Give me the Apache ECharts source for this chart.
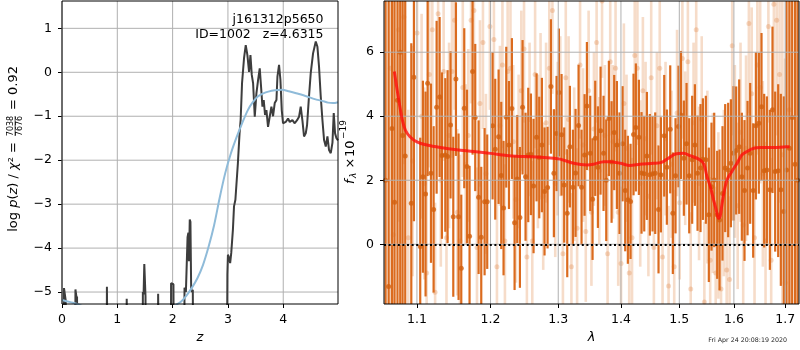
<!DOCTYPE html>
<html>
<head>
<meta charset="utf-8">
<script src="https://cdn.jsdelivr.net/npm/echarts@6/dist/echarts.min.js"></script>
<style>
  html, body { margin: 0; padding: 0; background: #fff; }
  #chart { width: 800px; height: 350px; }
</style>
</head>
<body>
<div id="chart"></div>
<script>
// ---- p(z): redshift grid and log-probability curve ----
const zPz = [0.000, 0.030, 0.036, 0.050, 0.062, 0.068, 0.075, 0.235, 0.243, 0.258, 0.265, 0.272, 0.280,
  0.805, 0.812, 0.830, 0.840, 1.160, 1.170, 1.195, 1.205, 1.455, 1.462, 1.475, 1.488, 1.500, 1.510, 1.520,
  1.730, 1.738, 1.765, 1.772, 1.965, 1.972, 1.995, 2.015, 2.028, 2.205, 2.215, 2.240, 2.270, 2.285, 2.295,
  2.310, 2.322, 2.335, 2.350, 2.365, 2.380, 2.975, 2.990, 3.000, 3.015, 3.040, 3.060, 3.090, 3.110, 3.135,
  3.160, 3.180, 3.210, 3.230, 3.255, 3.291, 3.322, 3.352, 3.382, 3.407, 3.431, 3.455, 3.485, 3.515, 3.545,
  3.575, 3.599, 3.624, 3.647, 3.671, 3.696, 3.725, 3.756, 3.786, 3.816, 3.846, 3.877, 3.895, 3.924, 3.949,
  3.973, 3.996, 4.045, 4.087, 4.118, 4.166, 4.208, 4.250, 4.286, 4.316, 4.347, 4.376, 4.407, 4.431, 4.461,
  4.497, 4.539, 4.588, 4.618, 4.647, 4.678, 4.708, 4.738, 4.769, 4.799, 4.828, 4.859, 4.890, 4.913, 4.937,
  4.962, 4.990];
const logPz = [-9, -9, -4.91, -4.93, -4.92, -5.2, -9, -9, -4.94, -4.96, -5.15, -5.1, -9,
  -9, -4.88, -4.90, -9, -9, -5.15, -5.12, -9, -9, -5.0, -5.05, -4.36, -4.40, -5.1, -9,
  -9, -5.04, -5.07, -9, -9, -4.80, -4.78, -4.82, -9, -9, -4.9, -5.0, -3.75, -3.65, -4.3,
  -3.35, -3.4, -4.9, -5.0, -4.95, -9, -9, -4.6, -4.15, -4.2, -4.34, -4.11, -3.58, -3.05, -2.9,
  -2.86, -2.07, -1.39, -1.08, -0.25, 0.32, 0.62, 0.39, 0.01, 0.39, -0.06, -0.25, -1.01, -0.48, -0.18,
  0.09, -0.33, -0.78, -0.63, -0.97, -0.86, -1.24, -1.20, -0.78, -1.00, -0.70, -0.63, -0.10, 0.17, -0.17,
  -0.86, -1.16, -1.13, -1.05, -1.13, -1.09, -1.16, -1.09, -1.01, -0.78, -1.10, -1.46, -1.39, -1.20, -0.63,
  -0.02, 0.43, 0.70, 0.58, 0.13, -0.55, -1.08, -1.54, -1.69, -1.46, -1.77, -1.84, -1.60, -0.93, -1.39,
  -1.50, -1.55];

// ---- prior curve ----
const zPrior = [0, 0.15, 0.3, 0.6, 1.0, 1.5, 1.9, 2.05, 2.15, 2.25, 2.35, 2.45, 2.55, 2.65, 2.75, 2.85,
  2.95, 3.05, 3.15, 3.25, 3.36, 3.45, 3.54, 3.64, 3.73, 3.85, 3.97, 4.1, 4.27, 4.43, 4.57, 4.7, 4.81, 4.9, 4.99];
const logPrior = [-5.18, -5.23, -5.28, -5.45, -5.6, -5.6, -5.42, -5.3, -5.22, -5.08, -4.9, -4.68, -4.38,
  -3.97, -3.48, -2.86, -2.3, -1.86, -1.5, -1.18, -0.86, -0.68, -0.55, -0.48, -0.44, -0.41, -0.40, -0.43,
  -0.49, -0.55, -0.61, -0.65, -0.69, -0.70, -0.68];

// ---- spectrum, first set (strong) ----
const waveA = [1.0600, 1.0638, 1.0680, 1.0713, 1.0750, 1.0785, 1.0815, 1.0849, 1.0927, 1.0961, 1.1043, 1.1078,
  1.1113, 1.1140, 1.1184, 1.1219, 1.1259, 1.1299, 1.1330, 1.1375, 1.1406, 1.1446, 1.1483, 1.1519, 1.1555,
  1.1592, 1.1633, 1.1670, 1.1706, 1.1748, 1.1785, 1.1832, 1.1869, 1.1916, 1.1953, 1.2029, 1.2067, 1.2115,
  1.2153, 1.2186, 1.2225, 1.2264, 1.2307, 1.2346, 1.2385, 1.2424, 1.2463, 1.2507, 1.2547, 1.2587, 1.2626,
  1.2671, 1.2711, 1.2751, 1.2791, 1.2837, 1.2888, 1.2933, 1.2974, 1.3010, 1.3051, 1.3092, 1.3139, 1.3180,
  1.3227, 1.3269, 1.3316, 1.3363, 1.3411, 1.3448, 1.3501, 1.3538, 1.3581, 1.3624, 1.3667, 1.3715, 1.3759,
  1.3802, 1.3846, 1.3889, 1.3933, 1.3977, 1.4027, 1.4071, 1.4115, 1.4160, 1.4210, 1.4249, 1.4300, 1.4345,
  1.4391, 1.4436, 1.4487, 1.4533, 1.4579, 1.4636, 1.4677, 1.4735, 1.4781, 1.4840, 1.4886, 1.4933, 1.4986,
  1.5028, 1.5081, 1.5129, 1.5177, 1.5230, 1.5279, 1.5327, 1.5381, 1.5424, 1.5478, 1.5533, 1.5582, 1.5632,
  1.5687, 1.5731, 1.5786, 1.5836, 1.5892, 1.5943, 1.5993, 1.6043, 1.6100, 1.6151, 1.6202, 1.6260, 1.6311,
  1.6369, 1.6421, 1.6479, 1.6531, 1.6583, 1.6636, 1.6695, 1.6747, 1.6800, 1.6860, 1.6913, 1.6973, 1.7027,
  1.7085, 1.7141, 1.7200, 1.7250];
const fluxA = [2.0, -1.32, 3.62, 1.31, 4.5, 6.0, 3.40, 2.76, 1.28, 5.22, -0.07, 2.11,
  1.57, 5.03, 2.22, 1.09, 4.28, 4.60, 2.77, 2.79, 2.74, 3.73, 0.86, 5.16, 0.86,
  -0.75, 4.25, 2.43, 0.25, 5.40, 3.96, 1.47, 0.22, 1.33, 1.33, 3.70, 2.97, 3.36,
  2.15, 1.13, 3.97, 3.10, 4.24, 0.67, 2.04, 0.84, 4.28, 2.11, 2.79, 2.81, 1.82,
  3.34, 2.71, 3.10, 1.65, 1.77, 4.93, 2.22, 3.46, 4.74, 3.42, 1.85, 0.97, 3.05,
  1.78, 2.23, 3.71, 1.78, 2.79, 4.32, 2.84, 1.41, 3.31, 2.41, 3.55, 2.84, 2.00,
  3.93, 2.57, 3.49, 3.10, 2.22, 3.14, 1.68, 1.39, 1.34, 3.43, 3.65, 3.34, 2.23,
  2.20, 2.76, 2.17, 2.20, 2.22, 1.09, 2.17, 3.39, 2.41, 3.59, 0.97, 2.14, 3.68,
  4.04, 2.69, 3.14, 2.14, 2.64, 3.10, 2.22, 2.38, 2.66, 2.64, 0.92, 1.80, 2.01,
  0.92, 0.76, 1.59, 2.38, 2.32, 2.53, 2.84, 2.93, 3.05, 2.11, 1.68, 2.38, 2.84,
  1.68, 3.70, 3.78, 4.30, 2.30, 2.32, 1.70, 4.20, 2.27, 2.30, 1.70, 1.02, 2.32,
  3.0, 3.96, 2.5, 2.0];
const errA = [12, 12, 12, 12, 12, 9, 7, 6, 5, 4.5, 3.4, 3.0,
  3.2, 2.9, 2.8, 2.6, 2.7, 2.5, 2.6, 2.4, 2.7, 2.3, 2.5, 2.4, 2.6,
  2.3, 2.5, 2.4, 2.2, 2.6, 2.3, 2.4, 2.2, 2.3, 2.1, 2.3, 2.2, 2.1,
  2.3, 2.1, 2.2, 2.0, 2.2, 2.1, 2.0, 2.2, 2.1, 2.0, 2.1, 1.9, 2.1,
  2.0, 1.9, 2.1, 2.0, 1.9, 2.1, 2.0, 1.8, 2.0, 1.9, 1.8, 2.0, 1.9,
  1.8, 2.0, 1.9, 1.8, 1.9, 2.0, 1.8, 1.9, 1.8, 1.9, 2.0, 1.8, 1.9,
  1.8, 1.9, 1.8, 2.0, 1.9, 1.8, 1.9, 2.0, 1.8, 1.9, 2.0, 1.8, 1.9,
  1.8, 2.0, 1.9, 1.8, 1.9, 2.0, 1.8, 1.9, 1.8, 2.0, 1.9, 1.8, 1.9,
  2.0, 1.8, 1.9, 1.8, 2.0, 1.9, 1.8, 2.0, 1.9, 2.0, 2.1, 2.0, 2.1,
  2.0, 2.2, 2.1, 2.0, 2.1, 2.0, 2.1, 2.0, 2.1, 2.0, 2.2, 2.1, 2.2,
  2.1, 2.3, 2.2, 2.3, 2.4, 2.3, 2.5, 2.6, 2.5, 2.7, 3.0, 3.6, 12,
  12, 12, 12, 12];

// ---- spectrum, second set (faint) ----
const waveB = [1.0659, 1.0697, 1.0764, 1.0832, 1.0888, 1.0944, 1.1002, 1.1061, 1.1096, 1.1127,
  1.1162, 1.1202, 1.1239, 1.1279, 1.1315, 1.1353, 1.1391, 1.1426, 1.1465, 1.1501,
  1.1537, 1.1574, 1.1613, 1.1652, 1.1688, 1.1727, 1.1767, 1.1809, 1.1851, 1.1893,
  1.1935, 1.1991, 1.2048, 1.2091, 1.2134, 1.2170, 1.2206, 1.2245, 1.2286, 1.2327,
  1.2366, 1.2405, 1.2444, 1.2485, 1.2527, 1.2567, 1.2607, 1.2649, 1.2691, 1.2731,
  1.2771, 1.2814, 1.2863, 1.2911, 1.2954, 1.2992, 1.3031, 1.3072, 1.3116, 1.3160,
  1.3204, 1.3248, 1.3293, 1.3340, 1.3387, 1.3430, 1.3475, 1.3520, 1.3560, 1.3603,
  1.3646, 1.3691, 1.3737, 1.3781, 1.3824, 1.3868, 1.3911, 1.3955, 1.4002, 1.4049,
  1.4093, 1.4138, 1.4185, 1.4230, 1.4275, 1.4323, 1.4368, 1.4414, 1.4462, 1.4510,
  1.4556, 1.4608, 1.4657, 1.4706, 1.4758, 1.4811, 1.4863, 1.4910, 1.4960, 1.5007,
  1.5055, 1.5105, 1.5153, 1.5204, 1.5255, 1.5303, 1.5354, 1.5403, 1.5451, 1.5506,
  1.5558, 1.5607, 1.5660, 1.5709, 1.5759, 1.5811, 1.5864, 1.5918, 1.5968, 1.6018,
  1.6072, 1.6126, 1.6177, 1.6231, 1.6286, 1.6340, 1.6395, 1.6450, 1.6505, 1.6557,
  1.6610, 1.6666, 1.6721, 1.6774, 1.6830, 1.6887, 1.6943, 1.7000, 1.7084];
const fluxB = [5.5, 0.3, 6.7, 7.1, 0.2, 2.6, 6.6, 4.0, 1.9, -0.9,
  5.3, 6.7, -1.5, 7.2, 2.0, 5.4, 0.2, 3.4, 5.4, 7.0,
  1.0, 0.1, 4.9, 2.5, 3.4, 7.0, 7.3, -0.1, 4.4, 6.3,
  2.2, 6.8, 6.4, -0.7, 3.7, 5.6, 0.1, 5.4, 5.5, 3.2,
  1.4, 2.9, 4.8, 6.1, -0.4, 3.9, 0.1, 5.3, 2.9, 4.0,
  1.5, 3.8, 5.5, 7.3, 1.9, 3.3, 4.0, -0.3, 5.2, 3.9,
  -0.7, 2.5, 0.5, 5.6, 3.1, 0.4, 4.8, 1.0, 3.6, 6.3,
  2.3, 7.6, 3.4, -0.3, 5.7, 3.2, 5.5, 1.0, -0.6, 4.4,
  3.0, -0.9, 0.2, 5.9, 5.5, 1.9, 4.8, 3.3, 1.5, 5.2,
  -0.1, 3.7, 5.5, -0.4, 3.3, -1.3, 2.5, -0.7, 4.1, 1.3,
  5.8, 3.0, 5.7, -1.4, 3.8, 6.7, 1.9, 3.9, -1.8, 2.1,
  -0.5, 1.6, -0.9, 0.9, -1.4, 1.6, -0.8, -1.1, 6.2, 2.9,
  1.2, 3.5, 0.6, 3.0, 6.9, 4.7, 0.2, 5.6, 4.9, 2.2,
  0.1, 6.8, -0.5, 7.5, 7.0, 5.3, 2.8, -1.2, 4.2];
const errB = [10, 8, 6, 4.6, 4.0, 3.6, 3.4, 3.2, 3.0, 3.1,
  2.9, 3.0, 2.8, 2.9, 2.7, 2.8, 2.6, 2.9, 2.7, 2.8,
  2.6, 2.7, 2.8, 2.5, 2.7, 2.6, 2.8, 2.5, 2.6, 2.7,
  2.5, 2.6, 2.4, 2.7, 2.5, 2.6, 2.4, 2.5, 2.7, 2.4,
  2.6, 2.4, 2.5, 2.3, 2.6, 2.4, 2.5, 2.3, 2.4, 2.6,
  2.3, 2.5, 2.4, 2.6, 2.3, 2.4, 2.5, 2.3, 2.4, 2.6,
  2.3, 2.4, 2.5, 2.3, 2.4, 2.2, 2.5, 2.3, 2.4, 2.5,
  2.3, 2.4, 2.2, 2.5, 2.3, 2.4, 2.6, 2.3, 2.4, 2.5,
  2.3, 2.4, 2.5, 2.3, 2.4, 2.6, 2.3, 2.4, 2.5, 2.4,
  2.5, 2.3, 2.4, 2.6, 2.4, 2.5, 2.3, 2.4, 2.6, 2.4,
  2.5, 2.4, 2.6, 2.4, 2.5, 2.7, 2.4, 2.6, 2.5, 2.7,
  2.6, 2.5, 2.7, 2.6, 2.8, 2.6, 2.7, 2.6, 2.8, 2.7,
  2.6, 2.8, 2.7, 2.9, 2.8, 2.7, 2.9, 2.8, 3.0, 2.9,
  3.1, 3.0, 3.2, 3.4, 3.6, 4.0, 5, 7, 10];

// ---- best-fit template ----
const waveModel = [1.071, 1.076, 1.081, 1.085, 1.091, 1.100, 1.113, 1.131, 1.153, 1.176, 1.200, 1.223,
  1.248, 1.273, 1.293, 1.303, 1.324, 1.345, 1.355, 1.372, 1.382, 1.399, 1.415, 1.432, 1.455, 1.469,
  1.481, 1.493, 1.508, 1.519, 1.535, 1.544, 1.550, 1.556, 1.562, 1.567, 1.571, 1.574, 1.577, 1.581,
  1.587, 1.596, 1.606, 1.615, 1.625, 1.638, 1.651, 1.677, 1.697, 1.709];
const fluxModel = [5.4, 4.6, 3.9, 3.57, 3.36, 3.2, 3.1, 3.02, 2.95, 2.9, 2.84, 2.77,
  2.74, 2.72, 2.69, 2.66, 2.53, 2.48, 2.5, 2.58, 2.58, 2.53, 2.46, 2.5, 2.53, 2.56,
  2.69, 2.82, 2.84, 2.77, 2.66, 2.51, 2.11, 1.8, 1.39, 1.07, 0.81, 0.86, 1.18, 1.59,
  2.01, 2.27, 2.53, 2.79, 2.9, 3.0, 3.02, 3.02, 3.04, 3.05];

// ---- tick values and axis ranges ----
const zTicks = [0, 1, 2, 3, 4];
const logPTicks = [-5, -4, -3, -2, -1, 0, 1];
const waveTicks = [1.1, 1.2, 1.3, 1.4, 1.5, 1.6, 1.7];
const fluxTicks = [0, 2, 4, 6];
const zRange = [0, 4.99];
const logPRange = [-5.272, 1.622];
const waveRange = [1.058, 1.728];
const fluxRange = [-1.866, 7.6];

const FONT = "'DejaVu Sans', sans-serif";
const minusFmt = v => (v < 0 ? '\u2212' + Math.abs(v) : String(v));

// wavelength axis is logarithmic: plot ln(lambda) on a linear axis
const lnW = w => Math.log(w);

function axisBase(ticks, fmt, margin, extra) {
  return Object.assign({
    type: 'value',
    axisLine: { show: false, onZero: false },
    axisTick: { show: true, customValues: ticks, length: 4, lineStyle: { color: '#000', width: 1 } },
    axisLabel: { customValues: ticks, formatter: fmt, color: '#000', fontSize: 12.5, fontFamily: FONT, margin: margin },
    splitLine: { show: false }
  }, extra);
}

// one two-point line series per grid line, spanning the axis range
function gridLineSeries(gi, xTicks, yTicks, xr, yr, z) {
  const make = pts => ({
    type: 'line', xAxisIndex: gi, yAxisIndex: gi, z: z, silent: true,
    symbol: 'none', showSymbol: false, clip: true, animation: false,
    lineStyle: { color: '#b0b0b0', width: 1 },
    emphasis: { disabled: true },
    data: pts
  });
  return xTicks.map(v => make([[v, yr[0]], [v, yr[1]]]))
    .concat(yTicks.map(v => make([[xr[0], v], [xr[1], v]])));
}

function errorBars(color, width) {
  return function (params, api) {
    const x = api.value(0), y = api.value(1), e = api.value(2);
    const lo = api.coord([x, y - e]);
    const hi = api.coord([x, y + e]);
    return {
      type: 'line',
      shape: { x1: lo[0], y1: lo[1], x2: hi[0], y2: hi[1] },
      style: { stroke: color, lineWidth: width }
    };
  };
}

const specA = waveA.map((w, i) => [lnW(w), fluxA[i], errA[i]]);
const specB = waveB.map((w, i) => [lnW(w), fluxB[i], errB[i]]);

const strong = '#db6b1e';
const faintBar = 'rgba(219,107,30,0.24)';
const faintDot = 'rgba(219,107,30,0.30)';

const series = []
  .concat(gridLineSeries(0, zTicks, logPTicks, zRange, logPRange, 1))
  .concat([
    {
      type: 'line', xAxisIndex: 0, yAxisIndex: 0,
      data: zPz.map((z, i) => [z, logPz[i]]),
      showSymbol: false, symbol: 'none', clip: true, z: 2,
      lineStyle: { color: '#3d3d3d', width: 2 }
    },
    {
      type: 'line', xAxisIndex: 0, yAxisIndex: 0,
      data: zPrior.map((z, i) => [z, logPrior[i]]),
      showSymbol: false, symbol: 'none', clip: true, smooth: 0.3, z: 3,
      lineStyle: { color: '#8fbbd9', width: 2 }
    },
    {
      type: 'custom', xAxisIndex: 1, yAxisIndex: 1, clip: true, z: 1,
      renderItem: errorBars(faintBar, 2.6), data: specB
    },
    {
      type: 'scatter', xAxisIndex: 1, yAxisIndex: 1, clip: true, z: 1,
      symbolSize: 5, itemStyle: { color: faintDot }, data: specB
    },
    {
      type: 'custom', xAxisIndex: 1, yAxisIndex: 1, clip: true, z: 2,
      renderItem: errorBars(strong, 2.2), data: specA
    },
    {
      type: 'scatter', xAxisIndex: 1, yAxisIndex: 1, clip: true, z: 2,
      symbolSize: 5, itemStyle: { color: '#d2600f' }, data: specA
    }
  ])
  .concat(gridLineSeries(1, waveTicks.map(lnW), fluxTicks, waveRange.map(lnW), fluxRange, 5))
  .concat([
    {
      type: 'line', xAxisIndex: 1, yAxisIndex: 1, clip: true, z: 6,
      data: waveModel.map((w, i) => [lnW(w), fluxModel[i]]),
      showSymbol: false, symbol: 'none', smooth: 0.3,
      lineStyle: { color: 'rgba(255,10,10,0.78)', width: 3 },
      markLine: {
        silent: true, symbol: 'none', label: { show: false }, z: 7,
        lineStyle: { color: '#000', type: [2, 2.6], width: 2 },
        data: [{ yAxis: 0 }]
      }
    }
  ]);

const option = {
  animation: false,
  backgroundColor: '#fff',
  grid: [
    { left: 62, top: 1, width: 276, height: 303, show: true, borderColor: '#000', borderWidth: 1, backgroundColor: 'transparent', z: 10, outerBoundsMode: 'none' },
    { left: 384, top: 1, width: 415, height: 303, show: true, borderColor: '#000', borderWidth: 1, backgroundColor: 'transparent', z: 10, outerBoundsMode: 'none' }
  ],
  xAxis: [
    axisBase(zTicks, v => String(v), 9, {
      gridIndex: 0, min: zRange[0], max: zRange[1],
      name: 'z', nameLocation: 'middle', nameGap: 26,
      nameTextStyle: { fontStyle: 'italic', fontSize: 13, fontFamily: FONT, color: '#000' }
    }),
    axisBase(waveTicks.map(lnW), v => Math.exp(v).toFixed(1), 9, {
      gridIndex: 1, min: lnW(waveRange[0]), max: lnW(waveRange[1]),
      name: '\u03bb', nameLocation: 'middle', nameGap: 25,
      nameTextStyle: { fontStyle: 'italic', fontSize: 13, fontFamily: FONT, color: '#000' }
    })
  ],
  yAxis: [
    axisBase(logPTicks, minusFmt, 10, { gridIndex: 0, min: logPRange[0], max: logPRange[1] }),
    axisBase(fluxTicks, minusFmt, 10, { gridIndex: 1, min: fluxRange[0], max: fluxRange[1] })
  ],
  series: series,
  graphic: [
    {
      type: 'group', x: 13.5, y: 142, rotation: Math.PI / 2,
      children: [
        {
          type: 'text', x: 0, y: 0,
          style: {
            text: '{n|log }{i|p}{n|(}{i|z}{n|) / }{i|\u03c7}{n|\u00b2 =}',
            align: 'right', verticalAlign: 'middle', fill: '#000',
            rich: {
              n: { fontSize: 13, fontFamily: FONT, fill: '#000' },
              i: { fontSize: 13, fontFamily: FONT, fontStyle: 'italic', fill: '#000' }
            }
          }
        },
        { type: 'text', x: 16, y: -3, style: { text: '7038', fontSize: 8, fontFamily: FONT, fill: '#000', align: 'center', verticalAlign: 'middle' } },
        { type: 'line', shape: { x1: 6, y1: 1.6, x2: 26, y2: 1.6 }, style: { stroke: '#000', lineWidth: 0.7 } },
        { type: 'text', x: 16, y: 6.3, style: { text: '7676', fontSize: 8, fontFamily: FONT, fill: '#000', align: 'center', verticalAlign: 'middle' } },
        { type: 'text', x: 32, y: 0, style: { text: '= 0.92', fontSize: 13, fontFamily: FONT, fill: '#000', align: 'left', verticalAlign: 'middle' } }
      ]
    },
    {
      type: 'group', x: 350.5, y: 184, rotation: Math.PI / 2,
      children: [
        { type: 'text', x: 0, y: 0, style: { text: 'f', fontSize: 13, fontStyle: 'italic', fontFamily: FONT, fill: '#000', align: 'left', verticalAlign: 'middle' } },
        { type: 'text', x: 6, y: 3, style: { text: '\u03bb', fontSize: 9, fontStyle: 'italic', fontFamily: FONT, fill: '#000', align: 'left', verticalAlign: 'middle' } },
        { type: 'text', x: 21, y: 0, style: { text: '\u00d7', fontSize: 13, fontFamily: FONT, fill: '#000', align: 'center', verticalAlign: 'middle' } },
        { type: 'text', x: 27, y: 0, style: { text: '10', fontSize: 13, fontFamily: FONT, fill: '#000', align: 'left', verticalAlign: 'middle' } },
        { type: 'text', x: 45, y: -6.5, style: { text: '\u221219', fontSize: 9, fontFamily: FONT, fill: '#000', align: 'left', verticalAlign: 'middle' } }
      ]
    },
    { type: 'text', x: 323.5, y: 20, style: { text: 'j161312p5650', fontSize: 12.5, fontFamily: FONT, fill: '#000', align: 'right', verticalAlign: 'middle' }, z: 20 },
    { type: 'text', x: 323.5, y: 34.5, style: { text: 'ID=1002   z=4.6315', fontSize: 12.5, fontFamily: FONT, fill: '#000', align: 'right', verticalAlign: 'middle' }, z: 20 },
    { type: 'text', x: 787, y: 340, style: { text: 'Fri Apr 24 20:08:19 2020', fontSize: 6.3, fontFamily: FONT, fill: '#222', align: 'right', verticalAlign: 'middle' } }
  ]
};

const chart = echarts.init(document.getElementById('chart'), null, { renderer: 'canvas' });
chart.setOption(option);
</script>
</body>
</html>
